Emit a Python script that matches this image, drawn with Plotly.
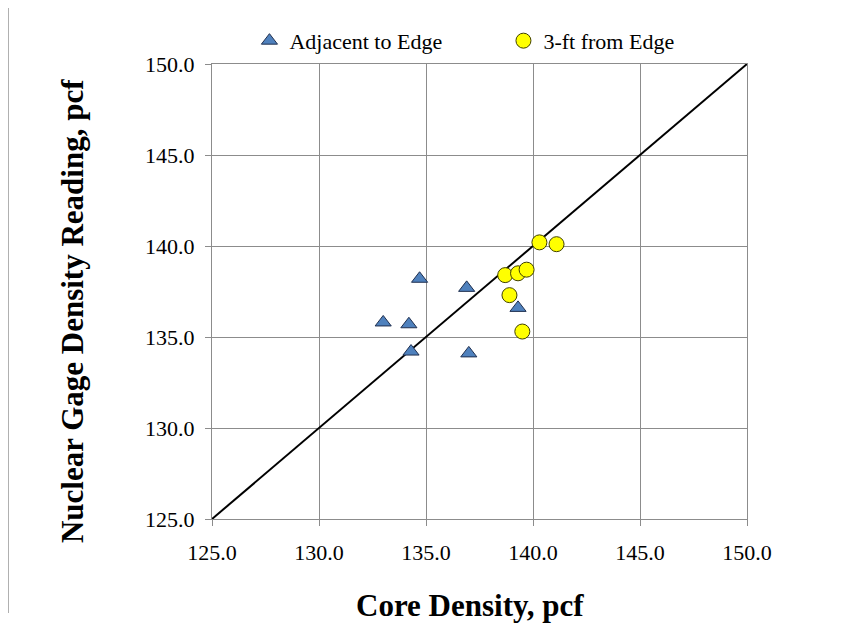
import plotly.graph_objects as go

adj_x = [134.7, 136.9, 133.0, 134.2, 134.3, 137.0, 139.3]
adj_y = [138.2, 137.7, 135.8, 135.7, 134.2, 134.1, 136.6]
far_x = [140.3, 141.1, 138.7, 139.3, 139.7, 138.9, 139.5]
far_y = [140.2, 140.1, 138.4, 138.5, 138.7, 137.3, 135.3]
line_x = [125.0, 150.0]
line_y = [125.0, 150.0]
tick_vals = [125, 130, 135, 140, 145, 150]
tick_text = ["125.0", "130.0", "135.0", "140.0", "145.0", "150.0"]
x_title = "Core Density, pcf"
y_title = "Nuclear Gage Density Reading, pcf"

font = "Liberation Serif"

fig = go.Figure()
fig.add_trace(go.Scatter(x=line_x, y=line_y, mode="lines",
                         line=dict(color="black", width=2), showlegend=False,
                         hoverinfo="skip"))
fig.add_trace(go.Scatter(x=adj_x, y=adj_y, mode="markers", name="Adjacent to Edge",
                         marker=dict(symbol="triangle-up", size=14, color="#4F81BD",
                                     line=dict(color="#1F2F4F", width=1))))
fig.add_trace(go.Scatter(x=far_x, y=far_y, mode="markers", name="3-ft from Edge",
                         marker=dict(symbol="circle", size=15, color="#FFFF00",
                                     line=dict(color="#404000", width=1))))

axis_common = dict(range=[125, 150], tickvals=tick_vals, ticktext=tick_text,
                   showgrid=True, gridcolor="#8C8C8C", gridwidth=1,
                   showline=True, linecolor="#8C8C8C", linewidth=1, mirror=True,
                   ticks="outside", ticklen=6, tickcolor="#8C8C8C",
                   tickfont=dict(family=font, size=22, color="black"),
                   zeroline=False, automargin=False)

fig.update_layout(
    width=867, height=624,
    margin=dict(l=204, r=128, t=56, b=113),
    paper_bgcolor="white", plot_bgcolor="white",
    font=dict(family=font, color="black"),
    xaxis=dict(**axis_common, ticklabelstandoff=8),
    yaxis=dict(**axis_common, ticklabelstandoff=6),
    legend=dict(orientation="h", x=0.07, xanchor="left", y=1.097, yanchor="top",
                font=dict(family=font, size=22), bgcolor="rgba(0,0,0,0)",
                entrywidth=209, entrywidthmode="pixels", itemwidth=30),
    annotations=[
        dict(text="<b>" + x_title + "</b>", xref="paper", yref="paper",
             x=0.482, y=-0.191, xanchor="center", yanchor="middle",
             showarrow=False, font=dict(family=font, size=31, color="black")),
        dict(text="<b>" + y_title + "</b>", xref="paper", yref="paper",
             x=-0.2617, y=0.457, xanchor="center", yanchor="middle", textangle=-90,
             showarrow=False, font=dict(family=font, size=31, color="black")),
    ],
    shapes=[dict(type="line", xref="paper", yref="paper",
                 x0=-0.3804, x1=-0.3804, y0=-0.2066, y1=1.125,
                 line=dict(color="#B0B0B0", width=1))],
)

fig.write_html("out.html")
